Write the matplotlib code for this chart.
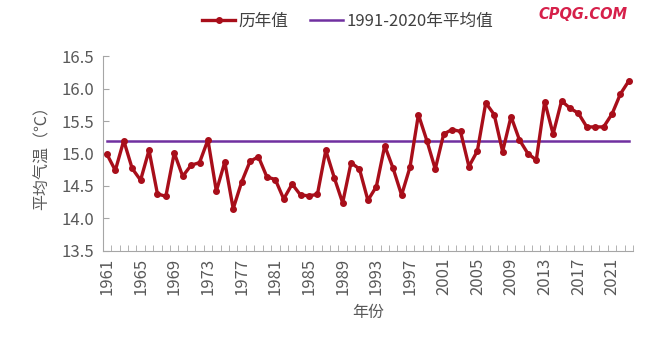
import matplotlib
matplotlib.use('Agg')
import matplotlib.pyplot as plt
from matplotlib.ticker import MultipleLocator, FixedLocator

# 年份与历年平均气温
years = list(range(1961, 2024))
temps = [14.99, 14.74, 15.20, 14.77, 14.59, 15.05, 14.38, 14.34, 15.01, 14.65,
         14.82, 14.86, 15.21, 14.42, 14.87, 14.15, 14.56, 14.88, 14.95, 14.64,
         14.60, 14.30, 14.53, 14.36, 14.35, 14.37, 15.05, 14.63, 14.24, 14.86,
         14.76, 14.28, 14.49, 15.12, 14.77, 14.36, 14.79, 15.60, 15.20, 14.76,
         15.30, 15.37, 15.34, 14.80, 15.04, 15.78, 15.60, 15.03, 15.57, 15.21,
         15.00, 14.90, 15.80, 15.30, 15.81, 15.70, 15.62, 15.41, 15.41, 15.41,
         15.61, 15.92, 16.12]
normal = 15.2  # 1991-2020年平均值
xtick_years = list(range(1961, 2024, 4))

plt.rcParams['font.family'] = ['Liberation Sans Narrow', 'Noto Sans CJK SC', 'DejaVu Sans']
plt.rcParams['axes.unicode_minus'] = False

fig = plt.figure(figsize=(6.5, 3.6), dpi=100)
ax = fig.add_axes([0.158, 0.303, 0.816, 0.541])

ax.plot(years, temps, color='#A80E1A', lw=2.4, marker='o', ms=4,
        label='历年值', zorder=3)
ax.plot([years[0], years[-1]], [normal, normal], color='#7030A0', lw=1.8,
        label='1991-2020年平均值', zorder=2)

ax.set_xlim(years[0] - 0.5, years[-1] + 0.5)
ax.set_ylim(13.5, 16.5)
ax.yaxis.set_major_locator(MultipleLocator(0.5))
ax.yaxis.set_major_formatter(matplotlib.ticker.FormatStrFormatter('%.1f'))
ax.xaxis.set_major_locator(FixedLocator(xtick_years))
ax.set_xticklabels([str(y) for y in xtick_years], rotation=90)
ax.xaxis.set_minor_locator(FixedLocator([y - 0.5 for y in years] + [years[-1] + 0.5]))

ax.tick_params(axis='x', which='major', length=0, pad=5, labelsize=12, colors='#595959')
ax.tick_params(axis='x', which='minor', direction='in', length=4, color='#A6A6A6')
ax.tick_params(axis='y', direction='in', length=4, color='#A6A6A6', labelsize=12,
               labelcolor='#595959', pad=6)

for s in ['top', 'right']:
    ax.spines[s].set_visible(False)
for s in ['left', 'bottom']:
    ax.spines[s].set_color('#A6A6A6')

ax.set_ylabel('平均气温（℃）', fontsize=11.5, color='#595959', labelpad=8)
ax.set_xlabel('年份', fontsize=11.5, color='#595959', labelpad=6)

fig.legend(loc='center', bbox_to_anchor=(0.535, 0.94), ncol=2, frameon=False,
           fontsize=12, handlelength=2.0, columnspacing=1.3, handletextpad=0.2,
           labelcolor='#404040')

fig.text(0.897, 0.96, 'CPQG.COM', color='#D6204A', fontsize=10.5, fontweight='bold',
         style='italic', ha='center', va='center', family=['DejaVu Sans'])

fig.savefig('out.png', dpi=100)
